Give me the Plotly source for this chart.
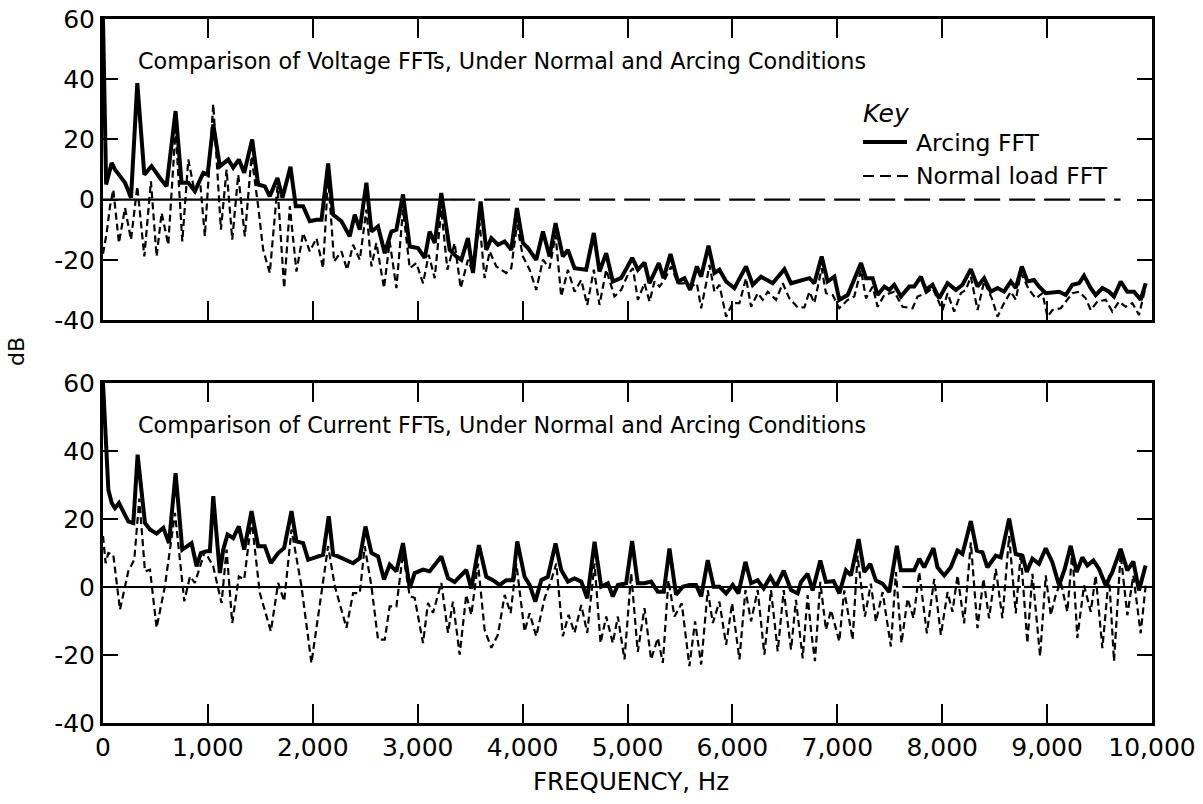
import plotly.graph_objects as go

# ---------------- data ----------------
top_arc_f = [0, 30, 83, 114, 162, 210, 267, 327, 394, 463, 543, 606, 692, 749, 813, 876, 956, 997, 1051, 1114,
             1194, 1241, 1295, 1346, 1422, 1479, 1543, 1590, 1663, 1711, 1787, 1838, 1908, 1971, 2035, 2083, 2146,
             2194, 2273, 2352, 2400, 2448, 2511, 2559, 2622, 2686, 2749, 2797, 2860, 2924, 3003, 3067, 3114, 3162,
             3225, 3305, 3368, 3416, 3479, 3527, 3600, 3654, 3702, 3765, 3829, 3892, 3946, 4003, 4051, 4130, 4194,
             4257, 4314, 4384, 4432, 4495, 4606, 4679, 4733, 4797, 4860, 4940, 5045, 5099, 5162, 5210, 5299, 5343,
             5410, 5480, 5543, 5597, 5661, 5702, 5772, 5829, 5876, 5940, 6019, 6130, 6194, 6273, 6384, 6496, 6559,
             6734, 6781, 6851, 6908, 6972, 7019, 7099, 7226, 7273, 7337, 7384, 7448, 7496, 7543, 7606, 7686, 7733,
             7797, 7844, 7908, 7971, 8051, 8130, 8194, 8273, 8337, 8400, 8463, 8527, 8590, 8654, 8702, 8759, 8813,
             8876, 8924, 8987, 9114, 9178, 9241, 9305, 9352, 9416, 9463, 9527, 9590, 9638, 9702, 9765, 9829, 9892,
             9940]
top_arc_db = [60, 5, 12.2, 10, 7.8, 5.6, 0.6, 38.7, 8.3, 11.1, 7.2, 4.4, 29.4, 5.6, 5.6, 2.8, 8.9, 8.3, 25, 11.1,
              13.3, 10.6, 13.3, 8.9, 20, 5, 4.4, 1.1, 7.2, 0.6, 10.9, -2.2, -2.2, -7.2, -6.7, -6.7, 12,
              -5, -7.2, -12.2, -5, -10, 5.6, -10.6, -8.9, -17.8, -10.6, -10, 1.7, -15.6, -16.1, -19.4, -10.6, -14.4,
              2.2, -16.7, -18.9, -20, -12.8, -24.4, -0.6, -16.7, -12.8, -15, -13.9, -16.7, -2.8, -14.4, -16.1, -20, -10.6,
              -18.9, -7.8, -18.9, -16.7, -22.8, -23.3, -11.1, -23.9, -17.8, -27.2, -26, -19.4, -23.3, -20.9, -27.8, -21.1, -26.1,
              -18.1, -27.2, -26.1, -30, -22.2, -25.6, -15.3, -24.4, -23.3, -27.2, -29.4, -22.2, -28.3, -25.6, -27.8, -23.1, -27.8,
              -26.1, -27.8, -18.9, -27.2, -25.6, -33.3, -31.7, -21.1, -26.1, -26.1, -31.7, -28.9, -30, -28.3, -32.2, -28.9, -28.9,
              -25.6, -30, -28.3, -32.8, -27.8, -30, -28.3, -23.1, -28.9, -26.1, -30.6, -29.4, -30.6, -27.2, -29.4, -22.2, -27.2,
              -26.7, -28.9, -31.1, -30.6, -31.7, -28.3, -27.8, -25.3, -29.4, -31.7, -29.4, -30.6, -32.2, -27.2, -30.6, -30.6, -33.3,
              -27.8]

top_norm_f = [0, 35, 67, 98, 152, 210, 267, 327, 394, 457, 511, 559, 622, 692, 756, 813, 876, 924, 971, 1051, 1124,
              1178, 1232, 1289, 1352, 1416, 1479, 1527, 1590, 1663, 1727, 1781, 1844, 1908, 1971, 2035, 2098, 2146,
              2203, 2273, 2327, 2384, 2448, 2511, 2559, 2606, 2679, 2733, 2797, 2860, 2924, 2987, 3051, 3105, 3162,
              3225, 3283, 3352, 3410, 3479, 3527, 3590, 3638, 3686, 3749, 3844, 3892, 3946, 4003, 4067, 4130, 4194,
              4257, 4314, 4368, 4432, 4495, 4559, 4616, 4679, 4733, 4797, 4876, 4940, 5003, 5051, 5099, 5162, 5210,
              5257, 5305, 5353, 5416, 5480, 5543, 5607, 5661, 5702, 5750, 5781, 5829, 5876, 5940, 6003, 6067, 6130,
              6178, 6242, 6289, 6337, 6416, 6480, 6543, 6623, 6686, 6734, 6781, 6851, 6892, 6956, 7019, 7099, 7162,
              7226, 7273, 7337, 7384, 7448, 7543, 7622, 7717, 7765, 7844, 7908, 8003, 8051, 8114, 8178, 8225, 8273,
              8337, 8400, 8479, 8527, 8590, 8654, 8702, 8749, 8829, 8892, 8956, 9003, 9051, 9130, 9178, 9241, 9305,
              9368, 9416, 9479, 9559, 9622, 9686, 9749, 9813, 9876, 9940]
top_norm_db = [-18, -11.1, -2.2, 3.3, -14.4, -2.8, -13.3, 4.4, -18.9, 6.1, -18.9, -4.4, -15, 23.3, -13.9, 13.3, 2.2, 6.7, -12.2, 31.7, -10,
               10, -13.3, 8.3, -12.2, 14.4, -2.2, -16.7, -24.4, 4.4, -29.4, -2.2, -23.9, -11.1, -17.2, -12.8, -22.8, 7.8,
               -20.6, -17.2, -23.3, -15, -20, -3.3, -22.2, -14.4, -29.4, -13.9, -29.4, -3.3, -22.8, -21.1, -27.8, -18.3, -26.1,
               -3.3, -23.3, -14.4, -29.4, -20, -24.4, -7.8, -26.1, -17.2, -22.2, -24.4, -22.8, -8.3, -18.9, -23.3, -30, -20,
               -22.8, -11.7, -32.2, -23.3, -30.6, -26.7, -35, -23.3, -35, -23.3, -32.2, -30, -25, -22.8, -33.3, -27.8, -33.9,
               -27.2, -28.9, -26.7, -22.2, -27.8, -27.8, -28.9, -27.8, -36.1, -27.8, -21.7, -30.6, -28.3, -38.9, -34.4, -34.4, -26.1,
               -35.6, -31.1, -33.3, -30.6, -33.3, -27.8, -32.8, -35.8, -35.8, -30.6, -34.4, -22.8, -31.1, -31.7, -36.1, -33.3, -32.2,
               -23.3, -32.8, -28.9, -35.6, -31.7, -30.6, -35.6, -36.1, -32.2, -31.1, -29.4, -36.7, -31.1, -37.2, -31.1, -30, -25.6,
               -36.7, -27.2, -33.3, -38.9, -34.4, -30.6, -33.3, -24.4, -30, -32.8, -31.1, -38.9, -36.7, -36.1, -33.9, -31.1, -30.6,
               -32.8, -36.7, -33.9, -33.3, -37.2, -33.9, -35.6, -34.4, -38.3, -28.9]

bot_arc_f = [0, 51, 83, 114, 152, 194, 241, 289, 330, 400, 448, 511, 575, 629, 692, 756, 797, 844, 892, 933, 987,
             1019, 1051, 1114, 1146, 1187, 1241, 1295, 1346, 1416, 1479, 1543, 1600, 1670, 1727, 1797, 1844, 1908,
             1956, 2035, 2098, 2152, 2194, 2241, 2305, 2384, 2448, 2502, 2559, 2622, 2679, 2733, 2797, 2860, 2924,
             2971, 3051, 3114, 3225, 3289, 3352, 3463, 3511, 3584, 3654, 3717, 3781, 3844, 3908, 3949, 4019, 4067,
             4121, 4178, 4241, 4314, 4368, 4432, 4495, 4559, 4616, 4686, 4749, 4813, 4860, 4908, 4987, 5044, 5098,
             5162, 5225, 5289, 5346, 5400, 5463, 5527, 5590, 5654, 5702, 5765, 5822, 5876, 5940, 6003, 6057, 6124,
             6178, 6241, 6298, 6362, 6416, 6489, 6559, 6622, 6654, 6717, 6765, 6838, 6892, 6965, 7019, 7082, 7130,
             7203, 7257, 7314, 7368, 7431, 7495, 7568, 7606, 7733, 7781, 7828, 7917, 7955, 8019, 8082, 8146, 8193,
             8273, 8330, 8384, 8431, 8511, 8558, 8638, 8701, 8765, 8806, 8860, 8923, 8987, 9050, 9114, 9168, 9225,
             9282, 9336, 9384, 9441, 9495, 9558, 9622, 9701, 9765, 9822, 9876, 9939]
bot_arc_db = [60, 28.6, 24.7, 23.2, 24.7, 22.3, 19.3, 18.8, 38.9, 18.8, 16.9, 15.7, 17.4, 12.9, 33.5, 11, 12, 12.9, 6.1, 10, 10.5,
              10.5, 26.7, 4.1, 11, 15.4, 14.4, 17.8, 11, 22.3, 12, 12, 7, 10, 11.5, 22.3, 13.4, 12.9,
              8, 9, 9.5, 20.8, 9.5, 9, 8, 7, 8.5, 17.8, 10, 9, 2.2, 6.6, 4.6, 12.9, -0.3,
              4.1, 5.1, 4.6, 9, 2.6, 1.5, 5, -0.4, 12.3, 3, 2, 0.6, 2, 2, 13.4, 3, 0.6,
              -4.3, 2, 3, 12.8, 5, 1.6, 2.5, 1.6, -3.3, 13.3, 0.1, 1.1, -2.8, 0.6, 1.1, 13.5, 1.1,
              1.1, 1.6, -1.4, -1.4, 11.3, -2.3, 0.1, 0.6, 0.6, -2.8, 7.9, 0.1, 0.1, -1.9, 0.6, -1.9, 7.4,
              1.1, 2, -0.4, 3, 0.1, 4.8, -0.9, -1.9, 1.5, 3.9, -1, 7.8, 1.5, 1.7, -1.9, 4.9, 3.4,
              14.1, 4.4, 6.8, 1.9, 1, -1.5, 12.1, 4.9, 4.9, 8.3, 5.8, 11.4, 5.8, 3.4, 5.8, 10.7, 9.7,
              19.4, 10.7, 10.2, 5.8, 9.2, 8.7, 20.1, 9.7, 9.2, 4.4, 8.3, 6.8, 11.4, 7.3, 0.5, 5.3, 12.1,
              4.4, 8.7, 6.3, 7.8, 5.3, 0.5, 4.4, 11.2, 4.9, 7.5, -1, 6.3]

bot_norm_f = [0, 25, 51, 98, 162, 241, 298, 346, 400, 448, 511, 590, 686, 775, 829, 876, 971, 1051, 1130, 1178, 1232,
              1295, 1346, 1416, 1495, 1600, 1670, 1727, 1797, 1892, 1987, 2083, 2146, 2210, 2321, 2384, 2448, 2495,
              2559, 2622, 2686, 2733, 2797, 2860, 2924, 2971, 3051, 3098, 3146, 3225, 3289, 3336, 3400, 3463, 3511,
              3575, 3638, 3702, 3765, 3829, 3886, 3940, 4019, 4067, 4130, 4210, 4273, 4321, 4384, 4438, 4495, 4559,
              4616, 4686, 4743, 4797, 4860, 4908, 4971, 5035, 5098, 5162, 5225, 5289, 5337, 5390, 5448, 5517, 5590,
              5644, 5702, 5765, 5813, 5876, 5940, 5997, 6067, 6124, 6178, 6241, 6305, 6368, 6432, 6489, 6559, 6606,
              6670, 6717, 6749, 6787, 6838, 6892, 6940, 7019, 7066, 7146, 7193, 7263, 7320, 7368, 7432, 7511, 7559,
              7612, 7670, 7727, 7781, 7854, 7924, 7987, 8051, 8098, 8146, 8209, 8273, 8336, 8393, 8447, 8511, 8574,
              8638, 8701, 8749, 8812, 8860, 8933, 8987, 9035, 9082, 9130, 9193, 9241, 9288, 9352, 9416, 9463, 9527,
              9590, 9638, 9701, 9765, 9822, 9892, 9940]
bot_norm_db = [15, 7, 10, 9.5, -6.7, 4.6, 8, 26, 4.6, 5.1, -12, 0.2, 21.8, -4.2, 3.1, 1.2, 10.5, 6, -4.7, 11, -10.6,
               3.1, 2.2, 19.8, -1.8, -13, 1.2, -4.2, 16.9, 0.2, -22.4, -1.8, 12, 0.2, -12, -1.8, -1.8, 12,
               0.2, -15.5, -15.5, -5.7, -5.7, 10, -2.7, -3.2, -16.5, -4.7, -7.6, 1.2, -13.5, -4.3, -19.9, -2.3, -8.2,
               6.9, -12.6, -17.9, -14, -2.3, -7.7, 6.9, -13.1, -7.7, -14.5, -3.3, 2, 6.9, -14.5, -8.2, -13.5, -5.3,
               -13.5, 6.9, -16.5, -8.7, -16.5, -8.7, -21.3, 4, -19.1, -6.2, -21.3, -15, -22.3, 2, -8.7, -4.8, -23.3,
               -10.1, -22.8, -0.9, -10.6, -4.3, -17, -4.8, -21.3, -0.9, -10.1, -0.9, -19.9, -0.9, -18.9, -0.9, -18.4, -3.8,
               -21, -2.4, -12.6, -21.8, 1.5, -12.6, -6.8, -16, -1, -15.5, 9.2, -8.7, 1, -10.2, -1.5, -17.5, 4.4,
               -16.5, -3.4, -9.2, 4.4, -13.6, 2.4, -14.1, -1.5, -7.3, 3.4, -10.7, 13.1, -12.1, 2.4, -9.2, 5.3, -9.2,
               15, -7.8, 10, -16.5, 3.9, -20.4, 3.4, -8.3, -2.4, 1.5, -7.3, 10.7, -15, 0.5, -7.3, 3.4, -18,
               3.4, -21.8, 9.7, -8.3, 3.4, -13.6, 0.5]

# reference 0 dB lines (frequency spans)
top_zero_solid = [0, 3300]
top_zero_dashed = [3300, 9700]
bot_zero_segments = [[0, 7290], [7620, 8750], [8780, 8940], [9050, 9820]]

x_tick_vals = [0, 1000, 2000, 3000, 4000, 5000, 6000, 7000, 8000, 9000, 10000]
x_tick_text = ["0", "1,000", "2,000", "3,000", "4,000", "5,000", "6,000", "7,000", "8,000", "9,000", "10,000"]
y_tick_vals = [-40, -20, 0, 20, 40, 60]
y_tick_text = ["-40", "-20", "0", "20", "40", "60"]

key_labels = ["Arcing FFT", "Normal load FFT"]

# ---------------- figure ----------------
W, H = 1203, 804
FONT = "DejaVu Sans, Verdana, sans-serif"

def px_x(p):
    return p / W

def px_y(p):
    return 1 - p / H

ARC_LINE = dict(color="black", width=4)
NORM_LINE = dict(color="black", width=2.2, dash="7px,4px")

fig = go.Figure()

# zero reference lines
fig.add_trace(go.Scatter(x=top_zero_solid, y=[0, 0], mode="lines", xaxis="x", yaxis="y",
                         line=dict(color="black", width=2.2), showlegend=False, hoverinfo="skip"))
fig.add_trace(go.Scatter(x=top_zero_dashed, y=[0, 0], mode="lines", xaxis="x", yaxis="y",
                         line=dict(color="black", width=2.2, dash="26px,9px"), showlegend=False, hoverinfo="skip"))
for seg in bot_zero_segments:
    fig.add_trace(go.Scatter(x=seg, y=[0, 0], mode="lines", xaxis="x2", yaxis="y2",
                             line=dict(color="black", width=2.2), showlegend=False, hoverinfo="skip"))

# top: voltage
fig.add_trace(go.Scatter(x=top_norm_f, y=top_norm_db, mode="lines", xaxis="x", yaxis="y",
                         name=key_labels[1], showlegend=False, line=NORM_LINE))
fig.add_trace(go.Scatter(x=top_arc_f, y=top_arc_db, mode="lines", xaxis="x", yaxis="y",
                         name=key_labels[0], showlegend=False, line=ARC_LINE))
# bottom: current
fig.add_trace(go.Scatter(x=bot_norm_f, y=bot_norm_db, mode="lines", xaxis="x2", yaxis="y2",
                         name=key_labels[1], showlegend=False, line=NORM_LINE))
fig.add_trace(go.Scatter(x=bot_arc_f, y=bot_arc_db, mode="lines", xaxis="x2", yaxis="y2",
                         name=key_labels[0], showlegend=False, line=ARC_LINE))

xdom = [px_x(103), px_x(1152)]
common_x = dict(range=[0, 10000], showgrid=False, zeroline=False, showline=True, linecolor="black",
                linewidth=3, mirror="ticks", ticks="inside", ticklen=19, tickwidth=2, tickcolor="black",
                tickvals=x_tick_vals, ticktext=x_tick_text, domain=xdom, automargin=False,
                tickfont=dict(family=FONT, size=25, color="black"))
common_y = dict(range=[-40, 60], showgrid=False, zeroline=False, showline=True, linecolor="black",
                linewidth=3, mirror="ticks", ticks="inside", ticklen=15, tickwidth=2, tickcolor="black",
                tickvals=y_tick_vals, ticktext=y_tick_text, automargin=False,
                tickfont=dict(family=FONT, size=25, color="black"))

# hand-drawn key (line samples) in page coordinates
key_shapes = [
    dict(type="line", xref="paper", yref="paper", x0=px_x(863), x1=px_x(907), y0=px_y(142), y1=px_y(142),
         line=dict(color="black", width=4)),
    dict(type="line", xref="paper", yref="paper", x0=px_x(863), x1=px_x(908), y0=px_y(176), y1=px_y(176),
         line=dict(color="black", width=2.2, dash="11px,6px")),
]

fig.update_layout(
    width=W, height=H,
    margin=dict(l=0, r=0, t=0, b=0),
    paper_bgcolor="white", plot_bgcolor="white",
    font=dict(family=FONT, color="black"),
    xaxis=dict(common_x, anchor="y", showticklabels=False),
    xaxis2=dict(common_x, anchor="y2", showticklabels=True),
    yaxis=dict(common_y, anchor="x", domain=[px_y(320), px_y(19)]),
    yaxis2=dict(common_y, anchor="x2", domain=[px_y(723), px_y(383)]),
    showlegend=False,
    shapes=key_shapes,
    annotations=[
        dict(text="Comparison of Voltage FFTs, Under Normal and Arcing Conditions", x=px_x(136), y=px_y(61),
             xref="paper", yref="paper", xanchor="left", yanchor="middle", showarrow=False,
             font=dict(family=FONT, size=22.3, color="black")),
        dict(text="Comparison of Current FFTs, Under Normal and Arcing Conditions", x=px_x(136), y=px_y(425),
             xref="paper", yref="paper", xanchor="left", yanchor="middle", showarrow=False,
             font=dict(family=FONT, size=22.3, color="black")),
        dict(text="<i>Key</i>", x=px_x(861), y=px_y(113), xref="paper", yref="paper",
             xanchor="left", yanchor="middle", showarrow=False,
             font=dict(family=FONT, size=25, color="black")),
        dict(text=key_labels[0], x=px_x(914), y=px_y(143), xref="paper", yref="paper",
             xanchor="left", yanchor="middle", showarrow=False,
             font=dict(family=FONT, size=23.5, color="black")),
        dict(text=key_labels[1], x=px_x(914), y=px_y(176), xref="paper", yref="paper",
             xanchor="left", yanchor="middle", showarrow=False,
             font=dict(family=FONT, size=23.5, color="black")),
        dict(text="dB", x=px_x(16), y=px_y(352), xref="paper", yref="paper", textangle=-90,
             xanchor="center", yanchor="middle", showarrow=False,
             font=dict(family=FONT, size=22, color="black")),
        dict(text="FREQUENCY, Hz", x=px_x(631), y=px_y(781), xref="paper", yref="paper",
             xanchor="center", yanchor="middle", showarrow=False,
             font=dict(family=FONT, size=24.5, color="black")),
    ],
)

fig.write_html("out.html", config={"displayModeBar": False},
               post_script="document.body.style.margin='0px';document.body.style.overflow='hidden';")
